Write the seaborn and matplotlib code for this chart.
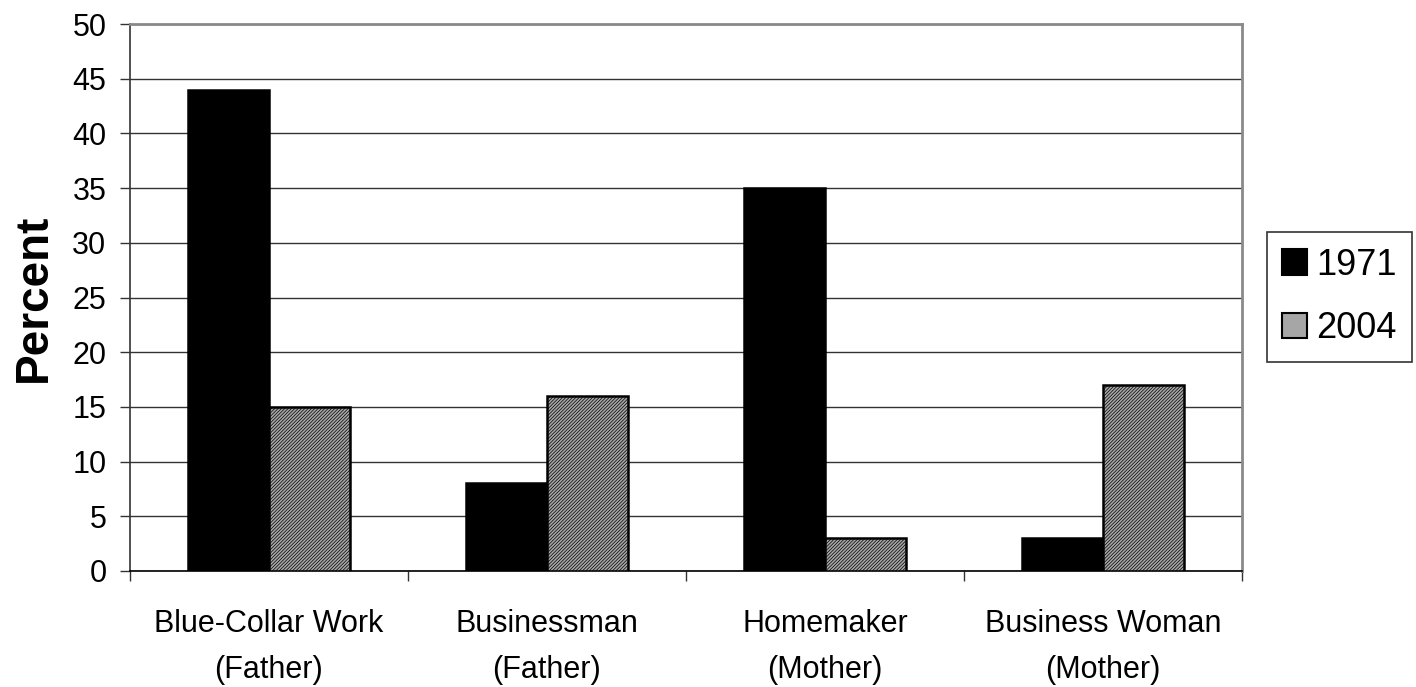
import matplotlib
matplotlib.use("Agg")
import matplotlib.pyplot as plt
import seaborn as sns
import pandas as pd
import numpy as np

categories = ["Blue-Collar Work\n(Father)", "Businessman\n(Father)", "Homemaker\n(Mother)", "Business Woman\n(Mother)"]
years = ["1971", "2004"]
values_1971 = [44, 8, 35, 3]
values_2004 = [15, 16, 3, 17]
y_ticks = [0, 5, 10, 15, 20, 25, 30, 35, 40, 45, 50]

df = pd.DataFrame({
    "category": categories * 2,
    "year": [years[0]] * 4 + [years[1]] * 4,
    "value": values_1971 + values_2004,
})

sns.set_style("white")
plt.rcParams["font.family"] = ["Liberation Sans", "DejaVu Sans"]
plt.rcParams["hatch.color"] = "#5a5a5a"
plt.rcParams["hatch.linewidth"] = 0.5
for k in ["text.color", "axes.labelcolor", "xtick.color", "ytick.color"]:
    plt.rcParams[k] = "black"

fig = plt.figure(figsize=(14.16, 6.87), dpi=100)
ax = fig.add_axes([130/1416, 116/687, (1242-130)/1416, (571-24)/687])

sns.barplot(data=df, x="category", y="value", hue="year", order=categories,
            hue_order=years, palette={"1971": "#000000", "2004": "#a6a6a6"},
            width=0.58, gap=0, edgecolor="black", linewidth=1.8,
            errorbar=None, ax=ax, zorder=3, saturation=1)

for p in ax.containers[1]:
    p.set_hatch("//////////")

ax.set_ylim(0, 50)
ax.set_xlim(-0.5, 3.5)
ax.set_yticks(y_ticks)
ax.yaxis.grid(True, color="#333333", linewidth=1.0, zorder=0)
ax.set_axisbelow(True)
ax.tick_params(axis="y", direction="out", length=7, width=1, color="#333333",
               labelsize=22, pad=10, left=True, labelcolor="black")
ax.set_xticks(range(4))
ax.set_xticklabels(categories, fontsize=22, linespacing=1.72)
ax.set_xticks(np.arange(-0.5, 4.0, 1.0), minor=True)
ax.tick_params(axis="x", which="major", length=0, pad=27, labelcolor="black")
ax.tick_params(axis="x", which="minor", direction="out", length=7, width=1,
               color="#333333", bottom=True)
ax.set_xlabel("")
ax.set_ylabel("Percent", fontsize=33, fontweight="bold", labelpad=12, color="black")

for side in ["top", "right"]:
    ax.spines[side].set_visible(True)
    ax.spines[side].set_color("#8a8a8a")
    ax.spines[side].set_linewidth(2)
ax.spines["left"].set_color("#333333")
ax.spines["left"].set_linewidth(1.2)
ax.spines["bottom"].set_color("#000000")
ax.spines["bottom"].set_linewidth(1.2)

handles, labels = ax.get_legend_handles_labels()
if ax.legend_:
    ax.legend_.remove()
leg = fig.legend(handles, labels, loc="center left",
                 bbox_to_anchor=(1267/1416, 1 - 297/687), fontsize=26,
                 frameon=True, fancybox=False, edgecolor="black",
                 handlelength=0.7, handleheight=0.7, handletextpad=0.25,
                 labelspacing=0.8, borderpad=0.42, borderaxespad=0)
leg.get_frame().set_linewidth(1.2)
for t in leg.get_texts():
    t.set_color("black")
for h in leg.legend_handles:
    h.set_edgecolor("black")
    h.set_linewidth(1.5)

fig.savefig("out.png", dpi=100)
